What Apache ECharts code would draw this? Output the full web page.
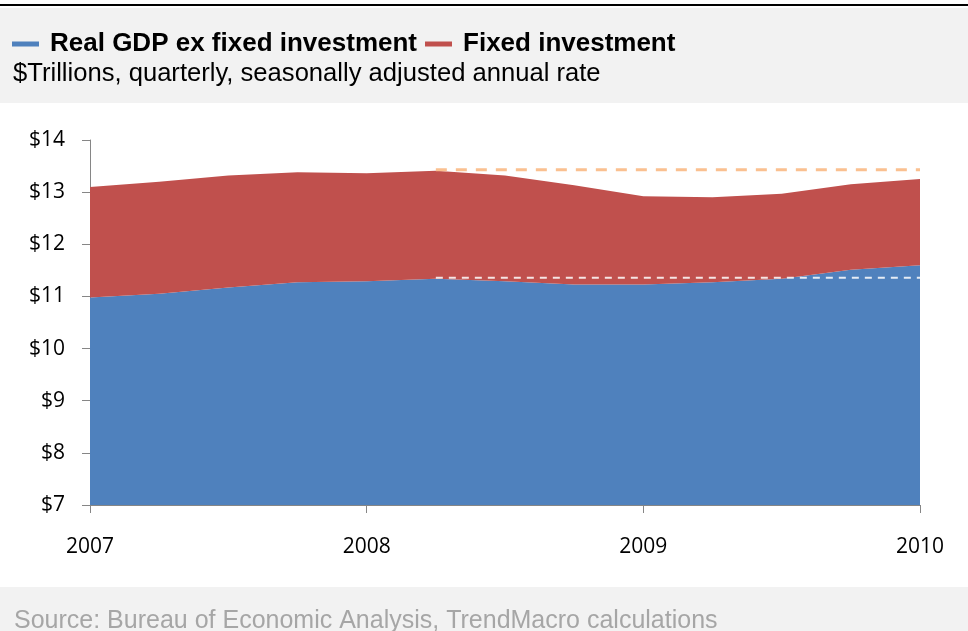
<!DOCTYPE html>
<html>
<head>
<meta charset="utf-8">
<script src="https://cdn.jsdelivr.net/npm/echarts@6/dist/echarts.min.js"></script>
<style>
  html, body { margin: 0; padding: 0; background: #fff; }
  #chart { width: 968px; height: 631px; }
</style>
</head>
<body>
<div id="chart"></div>
<script>
// quarterly, 2007Q1 .. 2010Q1
var quarters = ['2007', '2007Q2', '2007Q3', '2007Q4', '2008', '2008Q2', '2008Q3', '2008Q4',
  '2009', '2009Q2', '2009Q3', '2009Q4', '2010'];
var gdpExInvestment = [10.98, 11.05, 11.17, 11.27, 11.29, 11.34, 11.29, 11.23, 11.23, 11.27, 11.34, 11.51, 11.60];
var fixedInvestment = [2.12, 2.15, 2.15, 2.11, 2.07, 2.07, 2.03, 1.90, 1.69, 1.63, 1.63, 1.64, 1.65];
// reference levels at the 2008Q2 peak
var peakTotal = [null, null, null, null, null, 13.43, 13.43, 13.43, 13.43, 13.43, 13.43, 13.43, 13.43];
var peakExInvestment = [null, null, null, null, null, 11.36, 11.36, 11.36, 11.36, 11.36, 11.36, 11.36, 11.36];
var yTicks = [7, 14, 1]; // min, max, step

var chart = echarts.init(document.getElementById('chart'));

var axisFont = 'Open Sans';
var option = {
  animation: false,
  graphic: [
    { type: 'rect', shape: { x: 0, y: 4, width: 968, height: 2 }, style: { fill: '#000' } },
    { type: 'rect', shape: { x: 0, y: 8, width: 968, height: 95 }, style: { fill: '#f2f2f2' }, z: -10 },
    { type: 'rect', shape: { x: 0, y: 587, width: 968, height: 44 }, style: { fill: '#f2f2f2' }, z: -10 },
    {
      type: 'text', left: 13, top: 61,
      style: { text: '$Trillions, quarterly, seasonally adjusted annual rate', fill: '#000',
        font: '25.6px "Liberation Sans", Arial, sans-serif' }
    },
    {
      type: 'text', left: 14, top: 609,
      style: { text: 'Source: Bureau of Economic Analysis, TrendMacro calculations', fill: '#a6a6a6',
        font: '25px "Liberation Sans", Arial, sans-serif' }
    }
  ],
  legend: {
    left: 12,
    top: 31,
    padding: 0,
    icon: 'rect',
    itemWidth: 27,
    itemHeight: 5,
    itemGap: 8,
    data: ['Real GDP ex fixed investment', 'Fixed investment'],
    textStyle: {
      color: '#000',
      fontFamily: '"Liberation Sans", Arial, sans-serif',
      fontWeight: 'bold',
      fontSize: 26,
      padding: [0, 0, 0, 6]
    }
  },
  grid: { left: 90, right: 48, top: 140, bottom: 126 },
  xAxis: {
    type: 'category',
    data: quarters,
    boundaryGap: false,
    axisLine: { lineStyle: { color: '#868686', width: 1 } },
    axisTick: {
      length: 8,
      interval: function (i) { return i % 4 === 0; },
      lineStyle: { color: '#868686' }
    },
    axisLabel: {
      interval: function (i) { return i % 4 === 0; },
      formatter: function (v) { return v.slice(0, 4); },
      color: '#000',
      fontFamily: axisFont,
      fontSize: 21,
      margin: 32
    },
    splitLine: { show: false }
  },
  yAxis: {
    type: 'value',
    min: yTicks[0],
    max: yTicks[1],
    interval: yTicks[2],
    axisLine: { show: true, lineStyle: { color: '#868686', width: 1 } },
    axisTick: { show: true, length: 8, lineStyle: { color: '#868686' } },
    axisLabel: {
      formatter: '${value}',
      color: '#000',
      fontFamily: axisFont,
      fontSize: 21,
      margin: 25
    },
    splitLine: { show: false }
  },
  series: [
    {
      name: 'Real GDP ex fixed investment',
      type: 'line',
      stack: 'total',
      data: gdpExInvestment,
      showSymbol: false,
      color: '#4f81bd',
      lineStyle: { width: 0 },
      areaStyle: { color: '#4f81bd', opacity: 1 }
    },
    {
      name: 'Fixed investment',
      type: 'line',
      stack: 'total',
      data: fixedInvestment,
      showSymbol: false,
      color: '#c0504d',
      lineStyle: { width: 0 },
      areaStyle: { color: '#c0504d', opacity: 1 }
    },
    {
      name: 'peak total',
      type: 'line',
      data: peakTotal,
      showSymbol: false,
      z: 5,
      lineStyle: { color: '#fac090', width: 3, type: [11, 9] }
    },
    {
      name: 'peak ex investment',
      type: 'line',
      data: peakExInvestment,
      showSymbol: false,
      z: 5,
      lineStyle: { color: 'rgba(255,255,255,0.85)', width: 2, type: [7, 6] }
    }
  ]
};

chart.setOption(option);
</script>
</body>
</html>
